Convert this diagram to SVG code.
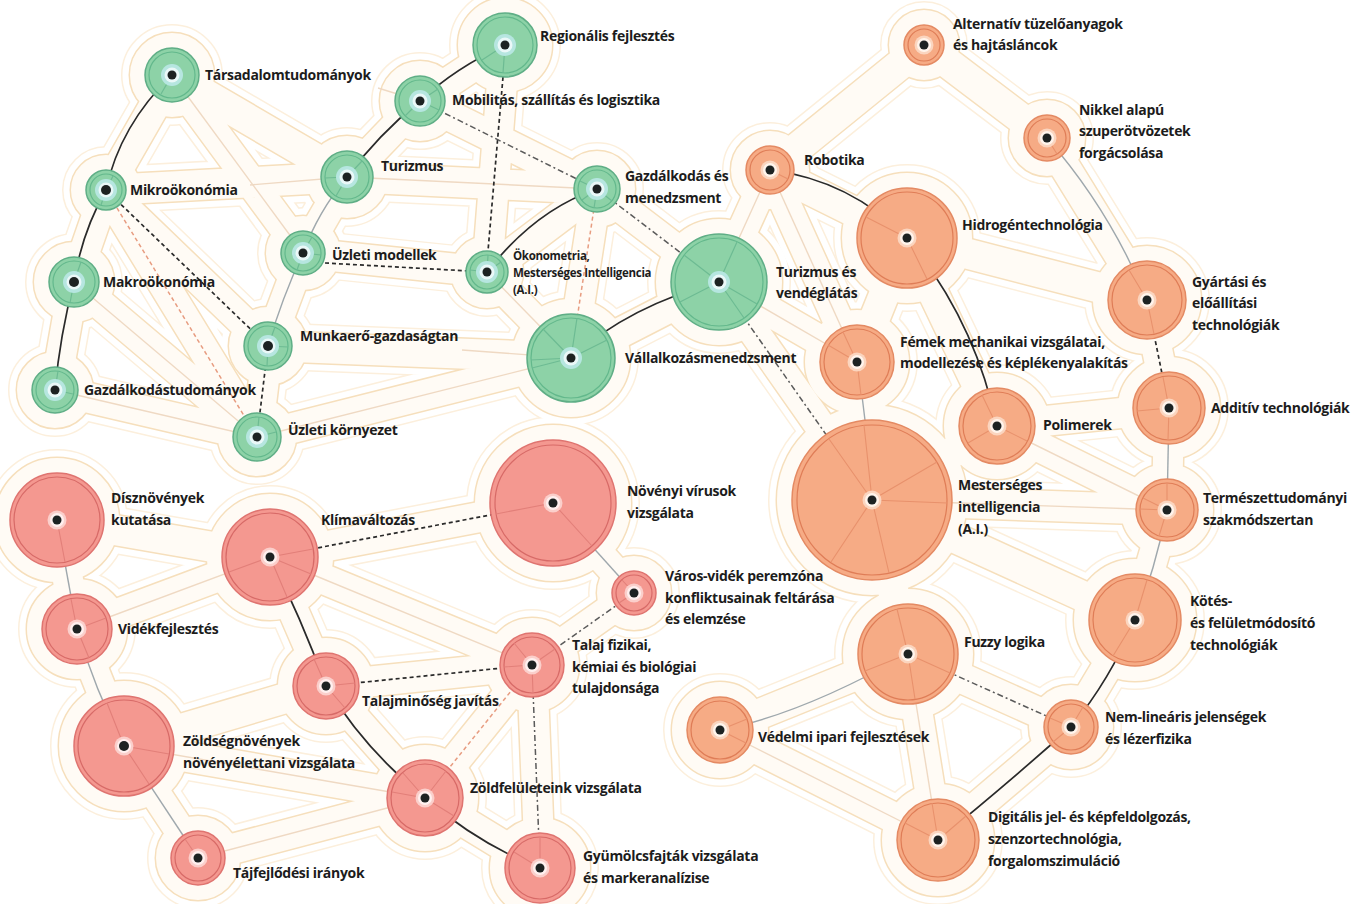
<svg xmlns="http://www.w3.org/2000/svg" xmlns:xlink="http://www.w3.org/1999/xlink" width="1352" height="904" viewBox="0 0 1352 904">
<style>
.t{font-family:"Open Sans","Liberation Sans",sans-serif;font-weight:700;font-size:14px;fill:#1c1c1c;letter-spacing:-0.3px}
.ts{font-size:11.5px}
.k1{fill:none;stroke:#2a2a2a;stroke-width:1.7}
.k2{fill:none;stroke:#9fa8ad;stroke-width:1.4}
.k3{fill:none;stroke:#2a2a2a;stroke-width:1.7;stroke-dasharray:4 3}
.k4{fill:none;stroke:#efd9c3;stroke-width:1.4}
.k5{fill:none;stroke:#e79c80;stroke-width:1.5;stroke-dasharray:4 3}
.k6{fill:none;stroke:#5a5a5a;stroke-width:1.5;stroke-dasharray:6 3 2 3}
.gr .b{fill:#8dd2a7;stroke:#5fae86;stroke-width:1.5}
.gr .rg{fill:none;stroke:#63b88c;stroke-width:1.2}
.gr .sp{stroke:#6dbb93;stroke-width:1.2;fill:none}
.gr .c1{fill:#b6e6e0}
.gr .c2{fill:#eaf8f8}
.or .b{fill:#f6ab85;stroke:#e48a63;stroke-width:1.5}
.or .rg{fill:none;stroke:#df7d57;stroke-width:1.2}
.or .sp{stroke:#e8916c;stroke-width:1.1;fill:none}
.or .c1{fill:#fbd5bf}
.or .c2{fill:#fff4ec}
.rd .b{fill:#f49890;stroke:#df7470;stroke-width:1.5}
.rd .rg{fill:none;stroke:#d76a67;stroke-width:1.2}
.rd .sp{stroke:#e27f79;stroke-width:1.1;fill:none}
.rd .c1{fill:#fbcfcb}
.rd .c2{fill:#fff0ef}
.dt{fill:#1d2222}
.h path,.h circle{stroke-linecap:round;stroke-linejoin:round}
</style>
<defs>
<g id="hull">
<path d="M172 75L106 190M106 190L74 282M74 282L55 390M55 390L257 437M74 282L257 437M106 190L257 437M106 190L268 346M172 75L303 253M172 75L347 177M106 190L347 177M347 177L420 101M420 101L505 45M505 45L487 272M420 101L597 189M347 177L597 189M347 177L303 253M303 253L487 272M303 253L268 346M268 346L257 437M268 346L571 358M257 437L571 358M487 272L571 358M597 189L487 272M597 189L571 358M597 189L719 282M719 282L571 358"/>
<path d="M924 45L770 170M924 45L1047 138M1047 138L1147 300M770 170L907 238M770 170L857 362M907 238L857 362M907 238L997 426M907 238L1147 300M857 362L872 500M997 426L872 500M997 426L1169 408M1147 300L1169 408M1169 408L1167 510M997 426L1167 510M872 500L1167 510M1167 510L1135 620M1135 620L1071 727M1071 727L938 840M908 654L1071 727M908 654L938 840M908 654L720 730M720 730L938 840M872 500L908 654M872 500L1135 620M719 282L770 170M719 282L857 362M719 282L872 500"/>
<path d="M57 520L77 629M77 629L124 746M124 746L198 858M77 629L270 557M57 520L270 557M270 557L553 503M270 557L326 686M326 686L425 798M425 798L540 868M326 686L532 665M553 503L634 593M634 593L532 665M532 665L540 868M532 665L425 798M124 746L425 798M198 858L425 798M270 557L532 665M124 746L326 686"/>
<circle cx="172" cy="75" r="27"/><circle cx="505" cy="45" r="32"/><circle cx="420" cy="101" r="25"/><circle cx="106" cy="190" r="20"/><circle cx="347" cy="177" r="26"/><circle cx="597" cy="189" r="23"/><circle cx="303" cy="253" r="22"/><circle cx="487" cy="272" r="21"/><circle cx="74" cy="282" r="25"/><circle cx="719" cy="282" r="48"/><circle cx="268" cy="346" r="24"/><circle cx="571" cy="358" r="44"/><circle cx="55" cy="390" r="23"/><circle cx="257" cy="437" r="24"/>
<circle cx="924" cy="45" r="20"/><circle cx="1047" cy="138" r="23"/><circle cx="770" cy="170" r="24"/><circle cx="907" cy="238" r="50"/><circle cx="1147" cy="300" r="39"/><circle cx="857" cy="362" r="37"/><circle cx="1169" cy="408" r="36"/><circle cx="997" cy="426" r="38"/><circle cx="872" cy="500" r="80"/><circle cx="1167" cy="510" r="31"/><circle cx="1135" cy="620" r="46"/><circle cx="908" cy="654" r="50"/><circle cx="720" cy="730" r="33"/><circle cx="1071" cy="727" r="27"/><circle cx="938" cy="840" r="41"/>
<circle cx="57" cy="520" r="47"/><circle cx="553" cy="503" r="63"/><circle cx="270" cy="557" r="48"/><circle cx="77" cy="629" r="35"/><circle cx="634" cy="593" r="22"/><circle cx="532" cy="665" r="32"/><circle cx="326" cy="686" r="33"/><circle cx="124" cy="746" r="50"/><circle cx="425" cy="798" r="38"/><circle cx="198" cy="858" r="27"/><circle cx="540" cy="868" r="35"/>
</g>
</defs>
<rect width="1352" height="904" fill="#ffffff"/>
<g id="background" class="h">
<use xlink:href="#hull" href="#hull" style="fill:#fcefdc;stroke:#fcefdc;stroke-width:48"/>
<use xlink:href="#hull" href="#hull" style="fill:#ffffff;stroke:#ffffff;stroke-width:45"/>
<use xlink:href="#hull" href="#hull" style="fill:#f6dfbc;stroke:#f6dfbc;stroke-width:33"/>
<use xlink:href="#hull" href="#hull" style="fill:#fffbf5;stroke:#fffbf5;stroke-width:30"/>
</g>
<g id="connectors">
<path class="k4" d="M250 185L347 177"/>
<path class="k4" d="M74 282L257 437"/>
<path class="k4" d="M55 390L257 437"/>
<path class="k4" d="M172 75L303 253"/>
<path class="k4" d="M378 88L420 101"/>
<path class="k4" d="M347 177L597 189"/>
<path class="k4" d="M462 350L571 358"/>
<path class="k4" d="M257 437L571 358"/>
<path class="k4" d="M487 272L571 358"/>
<path class="k4" d="M719 282L857 362"/>
<path class="k4" d="M719 282L770 170"/>
<path class="k4" d="M908 654L938 840"/>
<path class="k4" d="M720 730L938 840"/>
<path class="k4" d="M997 426L1167 510"/>
<path class="k4" d="M872 500L1167 510"/>
<path class="k4" d="M770 170L857 362"/>
<path class="k4" d="M77 629L270 557"/>
<path class="k4" d="M270 557L532 665"/>
<path class="k4" d="M124 746L425 798"/>
<path class="k4" d="M198 858L425 798"/>
<path class="k1" d="M172 75Q120 125 106 190"/>
<path class="k1" d="M106 190Q82 232 74 282"/>
<path class="k1" d="M74 282Q60 335 55 390"/>
<path class="k1" d="M505 45Q455 68 420 101"/>
<path class="k1" d="M420 101Q378 135 347 177"/>
<path class="k2" d="M347 177Q318 212 303 253"/>
<path class="k2" d="M303 253Q282 298 268 346"/>
<path class="k3" d="M268 346L257 437"/>
<path class="k1" d="M597 189Q535 210 487 272"/>
<path class="k1" d="M719 282Q630 305 571 358"/>
<path class="k3" d="M503 77L488 251"/>
<path class="k3" d="M325 263L487 272"/>
<path class="k6" d="M420 101L597 189"/>
<path class="k6" d="M597 189L719 282"/>
<path class="k5" d="M597 189L571 358"/>
<path class="k3" d="M106 190L268 346"/>
<path class="k5" d="M106 190L257 437"/>
<path class="k6" d="M719 282L872 500"/>
<path class="k1" d="M770 170Q850 180 907 238"/>
<path class="k1" d="M907 238Q975 320 997 426"/>
<path class="k2" d="M857 362Q868 430 872 500"/>
<path class="k2" d="M1047 138Q1110 210 1147 300"/>
<path class="k3" d="M1147 300L1169 408"/>
<path class="k2" d="M1169 408L1167 510"/>
<path class="k2" d="M1167 510Q1155 570 1135 620"/>
<path class="k1" d="M1135 620Q1110 680 1071 727"/>
<path class="k1" d="M1071 727Q1000 790 938 840"/>
<path class="k2" d="M908 654Q800 715 720 730"/>
<path class="k6" d="M908 654L1071 727"/>
<path class="k2" d="M57 520L77 629"/>
<path class="k2" d="M77 629Q95 690 124 746"/>
<path class="k2" d="M124 746L198 858"/>
<path class="k3" d="M270 557L553 503"/>
<path class="k1" d="M270 557Q300 615 326 686"/>
<path class="k1" d="M326 686Q365 750 425 798"/>
<path class="k1" d="M425 798Q480 845 540 868"/>
<path class="k3" d="M326 686L532 665"/>
<path class="k2" d="M553 503L634 593"/>
<path class="k6" d="M634 593L532 665"/>
<path class="k6" d="M532 665L540 868"/>
<path class="k5" d="M532 665L425 798"/>
</g>
<g id="nodes">
<g id="n-tarsadalomtudomanyok" class="gr" transform="translate(172,75)"><circle class="b" r="27"/><circle class="rg" r="23"/><path class="sp" d="M0 0L-11 19"/><circle class="c1" r="11"/><circle class="c2" r="7.5"/><circle class="dt" r="4.5"/><text class="t" x="33" y="5">Társadalomtudományok</text></g>
<g id="n-regionalis" class="gr" transform="translate(505,45)"><circle class="b" r="32"/><circle class="rg" r="28"/><path class="sp" d="M0 0L-23 15M0 0L-2 28"/><circle class="c1" r="11"/><circle class="c2" r="7.5"/><circle class="dt" r="4.5"/><text class="t" x="35" y="-4">Regionális fejlesztés</text></g>
<g id="n-mobilitas" class="gr" transform="translate(420,101)"><circle class="b" r="25"/><circle class="rg" r="21"/><path class="sp" d="M0 0L18 -12M0 0L-15 15M0 0L19 9"/><circle class="c1" r="11"/><circle class="c2" r="7.5"/><circle class="dt" r="4.5"/><text class="t" x="32" y="4">Mobilitás, szállítás és logisztika</text></g>
<g id="n-mikrookonomia" class="gr" transform="translate(106,190)"><circle class="b" r="20"/><circle class="rg" r="16"/><path class="sp" d="M0 0L7 -14M0 0L-5 15"/><circle class="c1" r="11"/><circle class="c2" r="7.5"/><circle class="dt" r="5"/><text class="t" x="24" y="5">Mikroökonómia</text></g>
<g id="n-turizmus" class="gr" transform="translate(347,177)"><circle class="b" r="26"/><circle class="rg" r="22"/><path class="sp" d="M0 0L15 -16M0 0L-11 19M0 0L-22 1"/><circle class="c1" r="11"/><circle class="c2" r="7.5"/><circle class="dt" r="4.5"/><text class="t" x="34" y="-6">Turizmus</text></g>
<g id="n-gazdalkodas" class="gr" transform="translate(597,189)"><circle class="b" r="23"/><circle class="rg" r="19"/><path class="sp" d="M0 0L-15 11M0 0L15 12M0 0L-3 19M0 0L-17 -8"/><circle class="c1" r="11"/><circle class="c2" r="7.5"/><circle class="dt" r="4.5"/><text class="t" x="28" y="-8">Gazdálkodás és</text><text class="t" x="28" y="14">menedzsment</text></g>
<g id="n-uzleti-modellek" class="gr" transform="translate(303,253)"><circle class="b" r="22"/><circle class="rg" r="18"/><path class="sp" d="M0 0L9 -16M0 0L-6 17M0 0L18 2"/><circle class="c1" r="11"/><circle class="c2" r="7.5"/><circle class="dt" r="4.5"/><text class="t" x="29" y="7">Üzleti modellek</text></g>
<g id="n-okonometria" class="gr" transform="translate(487,272)"><circle class="b" r="21"/><circle class="rg" r="17"/><path class="sp" d="M0 0L14 -10M0 0L1 -17M0 0L-17 -2"/><circle class="c1" r="11"/><circle class="c2" r="7.5"/><circle class="dt" r="4.5"/><text class="t ts" x="26" y="-12">Ökonometria,</text><text class="t ts" x="26" y="5">Mesterséges Intelligencia</text><text class="t ts" x="26" y="22">(A.I.)</text></g>
<g id="n-makrookonomia" class="gr" transform="translate(74,282)"><circle class="b" r="25"/><circle class="rg" r="21"/><path class="sp" d="M0 0L7 -20M0 0L-4 21"/><circle class="c1" r="11"/><circle class="c2" r="7.5"/><circle class="dt" r="5"/><text class="t" x="29" y="5">Makroökonómia</text></g>
<g id="n-turizmus-vendeglatas" class="gr" transform="translate(719,282)"><circle class="b" r="48"/><circle class="rg" r="44"/><path class="sp" d="M0 0L-35 -27M0 0L-39 20M0 0L25 36M0 0L38 22M0 0L18 -40"/><circle class="c1" r="11"/><circle class="c2" r="7.5"/><circle class="dt" r="4.5"/><text class="t" x="57" y="-5">Turizmus és</text><text class="t" x="57" y="16">vendéglátás</text></g>
<g id="n-munkaero" class="gr" transform="translate(268,346)"><circle class="b" r="24"/><circle class="rg" r="20"/><path class="sp" d="M0 0L7 -19M0 0L-1 20M0 0L20 1"/><circle class="c1" r="11"/><circle class="c2" r="7.5"/><circle class="dt" r="5"/><text class="t" x="32" y="-5">Munkaerő-gazdaságtan</text></g>
<g id="n-vallalkozasmenedzsment" class="gr" transform="translate(571,358)"><circle class="b" r="44"/><circle class="rg" r="40"/><path class="sp" d="M0 0L36 -18M0 0L6 -40M0 0L-40 2M0 0L-39 10M0 0L-28 -29"/><circle class="c1" r="11"/><circle class="c2" r="7.5"/><circle class="dt" r="4.5"/><text class="t" x="54" y="5">Vállalkozásmenedzsment</text></g>
<g id="n-gazdalkodastudomanyok" class="gr" transform="translate(55,390)"><circle class="b" r="23"/><circle class="rg" r="19"/><path class="sp" d="M0 0L3 -19M0 0L18 4"/><circle class="c1" r="11"/><circle class="c2" r="7.5"/><circle class="dt" r="4.5"/><text class="t" x="29" y="5">Gazdálkodástudományok</text></g>
<g id="n-uzleti-kornyezet" class="gr" transform="translate(257,437)"><circle class="b" r="24"/><circle class="rg" r="20"/><path class="sp" d="M0 0L2 -20M0 0L19 -5"/><circle class="c1" r="11"/><circle class="c2" r="7.5"/><circle class="dt" r="4.5"/><text class="t" x="31" y="-2">Üzleti környezet</text></g>

<g id="n-alternativ" class="or" transform="translate(924,45)"><circle class="b" r="20"/><circle class="rg" r="16"/><circle class="c1" r="9.5"/><circle class="c2" r="7"/><circle class="dt" r="4.5"/><text class="t" x="29" y="-16">Alternatív tüzelőanyagok</text><text class="t" x="29" y="5">és hajtásláncok</text></g>
<g id="n-nikkel" class="or" transform="translate(1047,138)"><circle class="b" r="23"/><circle class="rg" r="19"/><path class="sp" d="M0 0L10 16"/><circle class="c1" r="9.5"/><circle class="c2" r="7"/><circle class="dt" r="4.5"/><text class="t" x="32" y="-23">Nikkel alapú</text><text class="t" x="32" y="-2">szuperötvözetek</text><text class="t" x="32" y="20">forgácsolása</text></g>
<g id="n-robotika" class="or" transform="translate(770,170)"><circle class="b" r="24"/><circle class="rg" r="20"/><path class="sp" d="M0 0L18 9"/><circle class="c1" r="9.5"/><circle class="c2" r="7"/><circle class="dt" r="4.5"/><text class="t" x="34" y="-5">Robotika</text></g>
<g id="n-hidrogen" class="or" transform="translate(907,238)"><circle class="b" r="50"/><circle class="rg" r="46"/><path class="sp" d="M0 0L-41 -21M0 0L20 41"/><circle class="c1" r="9.5"/><circle class="c2" r="7"/><circle class="dt" r="4.5"/><text class="t" x="55" y="-8">Hidrogéntechnológia</text></g>
<g id="n-gyartasi" class="or" transform="translate(1147,300)"><circle class="b" r="39"/><circle class="rg" r="35"/><path class="sp" d="M0 0L-18 -30M0 0L7 34"/><circle class="c1" r="9.5"/><circle class="c2" r="7"/><circle class="dt" r="4.5"/><text class="t" x="45" y="-13">Gyártási és</text><text class="t" x="45" y="8">előállítási</text><text class="t" x="45" y="30">technológiák</text></g>
<g id="n-femek" class="or" transform="translate(857,362)"><circle class="b" r="37"/><circle class="rg" r="33"/><path class="sp" d="M0 0L4 33M0 0L-29 -17M0 0L-14 -30"/><circle class="c1" r="9.5"/><circle class="c2" r="7"/><circle class="dt" r="4.5"/><text class="t" x="43" y="-15">Fémek mechanikai vizsgálatai,</text><text class="t" x="43" y="6">modellezése és képlékenyalakítás</text></g>
<g id="n-additiv" class="or" transform="translate(1169,408)"><circle class="b" r="36"/><circle class="rg" r="32"/><path class="sp" d="M0 0L-6 -31M0 0L-1 32M0 0L-32 3"/><circle class="c1" r="9.5"/><circle class="c2" r="7"/><circle class="dt" r="4.5"/><text class="t" x="42" y="5">Additív technológiák</text></g>
<g id="n-polimerek" class="or" transform="translate(997,426)"><circle class="b" r="38"/><circle class="rg" r="34"/><path class="sp" d="M0 0L-15 -31M0 0L30 15M0 0L-29 17"/><circle class="c1" r="9.5"/><circle class="c2" r="7"/><circle class="dt" r="4.5"/><text class="t" x="46" y="4">Polimerek</text></g>
<g id="n-mesterseges-intelligencia" class="or" transform="translate(872,500)"><circle class="b" r="80"/><circle class="rg" r="75"/><path class="sp" d="M0 0L-8 -75M0 0L-43 -61M0 0L75 3M0 0L65 -38M0 0L17 73M0 0L-41 62"/><circle class="c1" r="9.5"/><circle class="c2" r="7"/><circle class="dt" r="4.5"/><text class="t" x="86" y="-10">Mesterséges</text><text class="t" x="86" y="12">intelligencia</text><text class="t" x="86" y="34">(A.I.)</text></g>
<g id="n-termeszettudomanyi" class="or" transform="translate(1167,510)"><circle class="b" r="31"/><circle class="rg" r="27"/><path class="sp" d="M0 0L0 -27M0 0L-8 26M0 0L-27 -1M0 0L-24 -12"/><circle class="c1" r="9.5"/><circle class="c2" r="7"/><circle class="dt" r="4.5"/><text class="t" x="36" y="-7">Természettudományi</text><text class="t" x="36" y="15">szakmódszertan</text></g>
<g id="n-kotes" class="or" transform="translate(1135,620)"><circle class="b" r="46"/><circle class="rg" r="42"/><path class="sp" d="M0 0L12 -40M0 0L-22 36"/><circle class="c1" r="9.5"/><circle class="c2" r="7"/><circle class="dt" r="4.5"/><text class="t" x="55" y="-14">Kötés-</text><text class="t" x="55" y="8">és felületmódosító</text><text class="t" x="55" y="30">technológiák</text></g>
<g id="n-fuzzy" class="or" transform="translate(908,654)"><circle class="b" r="50"/><circle class="rg" r="46"/><path class="sp" d="M0 0L-43 17M0 0L42 19M0 0L7 45M0 0L-11 -45"/><circle class="c1" r="9.5"/><circle class="c2" r="7"/><circle class="dt" r="4.5"/><text class="t" x="56" y="-7">Fuzzy logika</text></g>
<g id="n-vedelmi" class="or" transform="translate(720,730)"><circle class="b" r="33"/><circle class="rg" r="29"/><path class="sp" d="M0 0L27 -11M0 0L26 13"/><circle class="c1" r="9.5"/><circle class="c2" r="7"/><circle class="dt" r="4.5"/><text class="t" x="38" y="12">Védelmi ipari fejlesztések</text></g>
<g id="n-nemlinearis" class="or" transform="translate(1071,727)"><circle class="b" r="27"/><circle class="rg" r="23"/><path class="sp" d="M0 0L12 -20M0 0L-18 15M0 0L-21 -9"/><circle class="c1" r="9.5"/><circle class="c2" r="7"/><circle class="dt" r="4.5"/><text class="t" x="34" y="-5">Nem-lineáris jelenségek</text><text class="t" x="34" y="17">és lézerfizika</text></g>
<g id="n-digitalis" class="or" transform="translate(938,840)"><circle class="b" r="41"/><circle class="rg" r="37"/><path class="sp" d="M0 0L28 -24M0 0L-6 -37M0 0L-33 -17"/><circle class="c1" r="9.5"/><circle class="c2" r="7"/><circle class="dt" r="4.5"/><text class="t" x="50" y="-18">Digitális jel- és képfeldolgozás,</text><text class="t" x="50" y="4">szenzortechnológia,</text><text class="t" x="50" y="26">forgalomszimuláció</text></g>

<g id="n-disznovenyek" class="rd" transform="translate(57,520)"><circle class="b" r="47"/><circle class="rg" r="43"/><path class="sp" d="M0 0L8 42"/><circle class="c1" r="9.5"/><circle class="c2" r="7"/><circle class="dt" r="4.5"/><text class="t" x="54" y="-17">Dísznövények</text><text class="t" x="54" y="5">kutatása</text></g>
<g id="n-novenyi-virusok" class="rd" transform="translate(553,503)"><circle class="b" r="63"/><circle class="rg" r="58"/><path class="sp" d="M0 0L-57 11M0 0L39 43"/><circle class="c1" r="9.5"/><circle class="c2" r="7"/><circle class="dt" r="4.5"/><text class="t" x="74" y="-7">Növényi vírusok</text><text class="t" x="74" y="15">vizsgálata</text></g>
<g id="n-klimavaltozas" class="rd" transform="translate(270,557)"><circle class="b" r="48"/><circle class="rg" r="44"/><path class="sp" d="M0 0L43 -8M0 0L17 40M0 0L-41 15M0 0L41 17"/><circle class="c1" r="9.5"/><circle class="c2" r="7"/><circle class="dt" r="4.5"/><text class="t" x="51" y="-32">Klímaváltozás</text></g>
<g id="n-videkfejlesztes" class="rd" transform="translate(77,629)"><circle class="b" r="35"/><circle class="rg" r="31"/><path class="sp" d="M0 0L-6 -30M0 0L12 29M0 0L29 -11"/><circle class="c1" r="9.5"/><circle class="c2" r="7"/><circle class="dt" r="4.5"/><text class="t" x="41" y="5">Vidékfejlesztés</text></g>
<g id="n-varos-videk" class="rd" transform="translate(634,593)"><circle class="b" r="22"/><circle class="rg" r="18"/><path class="sp" d="M0 0L-12 -13M0 0L-15 10"/><circle class="c1" r="9.5"/><circle class="c2" r="7"/><circle class="dt" r="4.5"/><text class="t" x="31" y="-12">Város-vidék peremzóna</text><text class="t" x="31" y="10">konfliktusainak feltárása</text><text class="t" x="31" y="31">és elemzése</text></g>
<g id="n-talaj-fizikai" class="rd" transform="translate(532,665)"><circle class="b" r="32"/><circle class="rg" r="28"/><path class="sp" d="M0 0L-28 2M0 0L23 -16M0 0L1 28M0 0L-18 -22"/><circle class="c1" r="9.5"/><circle class="c2" r="7"/><circle class="dt" r="4.5"/><text class="t" x="40" y="-15">Talaj fizikai,</text><text class="t" x="40" y="7">kémiai és biológiai</text><text class="t" x="40" y="28">tulajdonsága</text></g>
<g id="n-talajminoseg" class="rd" transform="translate(326,686)"><circle class="b" r="33"/><circle class="rg" r="29"/><path class="sp" d="M0 0L-12 -27M0 0L19 22M0 0L29 -3"/><circle class="c1" r="9.5"/><circle class="c2" r="7"/><circle class="dt" r="4.5"/><text class="t" x="36" y="20">Talajminőség javítás</text></g>
<g id="n-zoldsegnovenyek" class="rd" transform="translate(124,746)"><circle class="b" r="50"/><circle class="rg" r="46"/><path class="sp" d="M0 0L-17 -43M0 0L25 38M0 0L45 8"/><circle class="c1" r="9.5"/><circle class="c2" r="7"/><circle class="dt" r="5"/><text class="t" x="59" y="0">Zöldségnövények</text><text class="t" x="59" y="22">növényélettani vizsgálata</text></g>
<g id="n-zoldfeluleteink" class="rd" transform="translate(425,798)"><circle class="b" r="38"/><circle class="rg" r="34"/><path class="sp" d="M0 0L-22 -25M0 0L29 18M0 0L21 -27M0 0L-33 -6"/><circle class="c1" r="9.5"/><circle class="c2" r="7"/><circle class="dt" r="4.5"/><text class="t" x="45" y="-5">Zöldfelületeink vizsgálata</text></g>
<g id="n-tajfejlodesi" class="rd" transform="translate(198,858)"><circle class="b" r="27"/><circle class="rg" r="23"/><path class="sp" d="M0 0L-13 -19"/><circle class="c1" r="9.5"/><circle class="c2" r="7"/><circle class="dt" r="4.5"/><text class="t" x="35" y="20">Tájfejlődési irányok</text></g>
<g id="n-gyumolcsfajtak" class="rd" transform="translate(540,868)"><circle class="b" r="35"/><circle class="rg" r="31"/><path class="sp" d="M0 0L-26 -16M0 0L0 -31"/><circle class="c1" r="9.5"/><circle class="c2" r="7"/><circle class="dt" r="4.5"/><text class="t" x="43" y="-7">Gyümölcsfajták vizsgálata</text><text class="t" x="43" y="15">és markeranalízise</text></g>
</g>
</svg>
